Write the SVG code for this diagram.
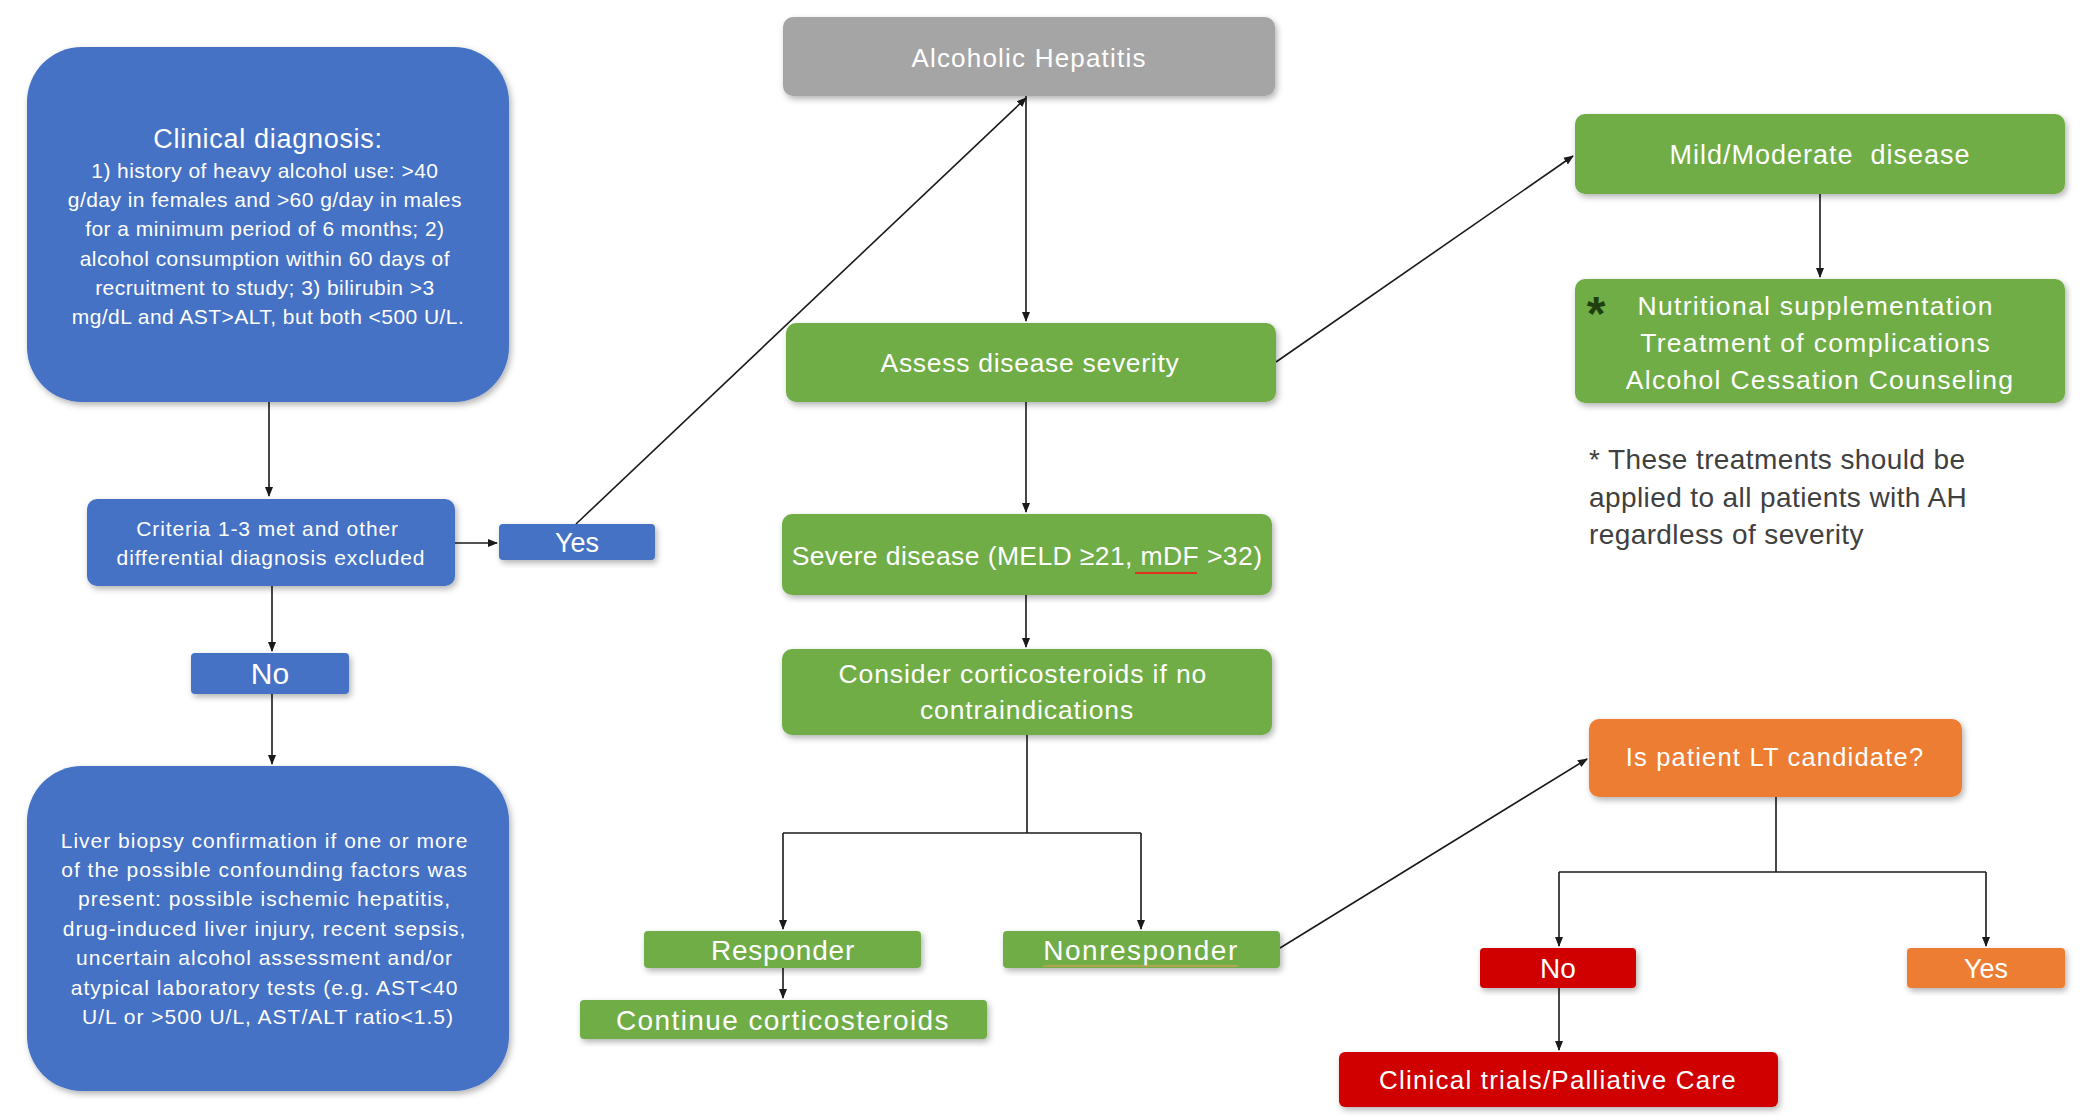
<svg xmlns="http://www.w3.org/2000/svg" width="2100" height="1116" viewBox="0 0 2100 1116">
<defs>
<filter id="sh" x="-10%" y="-10%" width="120%" height="130%">
<feDropShadow dx="2" dy="3" stdDeviation="3" flood-color="#000" flood-opacity="0.3"/>
</filter>
<marker id="ar" markerWidth="10" markerHeight="10" refX="9" refY="5" orient="auto" markerUnits="userSpaceOnUse">
<path d="M0,1 L10,5 L0,9 z" fill="#1a1a1a"/>
</marker>
</defs>
<style>
text{font-family:"Liberation Sans",Arial,sans-serif;fill:#fff;text-anchor:middle}
.blue{fill:#4472C4}
.green{fill:#70AD47}
.gray{fill:#A5A5A5}
.orange{fill:#ED7D31}
.red{fill:#D00000}
.c{stroke:#1a1a1a;stroke-width:1.6;fill:none}
.note{fill:#404040;text-anchor:start;font-size:28px;letter-spacing:0.4px}
</style>
<rect width="2100" height="1116" fill="#fff"/>

<g id="connectors">
<path class="c" d="M269,402 V496" marker-end="url(#ar)"/>
<path class="c" d="M455,543 H497" marker-end="url(#ar)"/>
<path class="c" d="M272,586 V651" marker-end="url(#ar)"/>
<path class="c" d="M272,694 V764" marker-end="url(#ar)"/>
<path class="c" d="M576,524 L1026,98" marker-end="url(#ar)"/>
<path class="c" d="M1026,96 V321" marker-end="url(#ar)"/>
<path class="c" d="M1276,362 L1573,156" marker-end="url(#ar)"/>
<path class="c" d="M1820,194 V277" marker-end="url(#ar)"/>
<path class="c" d="M1026,402 V512" marker-end="url(#ar)"/>
<path class="c" d="M1026,595 V647" marker-end="url(#ar)"/>
<path class="c" d="M1027,735 V833"/>
<path class="c" d="M783,833 H1141"/>
<path class="c" d="M783,833 V929" marker-end="url(#ar)"/>
<path class="c" d="M1141,833 V929" marker-end="url(#ar)"/>
<path class="c" d="M783,968 V998" marker-end="url(#ar)"/>
<path class="c" d="M1280,948 L1587,759" marker-end="url(#ar)"/>
<path class="c" d="M1776,797 V872"/>
<path class="c" d="M1559,872 H1986"/>
<path class="c" d="M1559,872 V946" marker-end="url(#ar)"/>
<path class="c" d="M1986,872 V946" marker-end="url(#ar)"/>
<path class="c" d="M1559,988 V1050" marker-end="url(#ar)"/>
</g>

<g id="clinical-diagnosis">
<rect class="blue" x="27" y="47" width="482" height="355" rx="55" filter="url(#sh)"/>
<text x="268" y="148" font-size="27" letter-spacing="0.7">Clinical diagnosis:</text>
<text font-size="21" letter-spacing="0.45">
<tspan x="268" y="178">1) history of heavy alcohol use: &gt;40</tspan>
<tspan x="268" y="207">g/day in females and &gt;60 g/day in males</tspan>
<tspan x="268" y="236">for a minimum period of 6 months; 2)</tspan>
<tspan x="268" y="266">alcohol consumption within 60 days of</tspan>
<tspan x="268" y="295">recruitment to study; 3) bilirubin &gt;3</tspan>
<tspan x="268" y="324">mg/dL and AST&gt;ALT, but both &lt;500 U/L.</tspan>
</text>
</g>

<g id="criteria">
<rect class="blue" x="87" y="499" width="368" height="87" rx="10" filter="url(#sh)"/>
<text font-size="21" letter-spacing="0.9">
<tspan x="271" y="536">Criteria 1-3 met and other</tspan>
<tspan x="271" y="565">differential diagnosis excluded</tspan>
</text>
</g>

<g id="yes-blue">
<rect class="blue" x="499" y="524" width="156" height="36" rx="4" filter="url(#sh)"/>
<text x="577" y="552" font-size="27">Yes</text>
</g>

<g id="no-blue">
<rect class="blue" x="191" y="653" width="158" height="41" rx="4" filter="url(#sh)"/>
<text x="270" y="684" font-size="30">No</text>
</g>

<g id="liver-biopsy">
<rect class="blue" x="27" y="766" width="482" height="325" rx="55" filter="url(#sh)"/>
<text font-size="21" letter-spacing="1">
<tspan x="268" y="848">Liver biopsy confirmation if one or more</tspan>
<tspan x="268" y="877">of the possible confounding factors was</tspan>
<tspan x="268" y="906">present: possible ischemic hepatitis,</tspan>
<tspan x="268" y="936">drug-induced liver injury, recent sepsis,</tspan>
<tspan x="268" y="965">uncertain alcohol assessment and/or</tspan>
<tspan x="268" y="995">atypical laboratory tests (e.g. AST&lt;40</tspan>
<tspan x="268" y="1024">U/L or &gt;500 U/L, AST/ALT ratio&lt;1.5)</tspan>
</text>
</g>

<g id="alcoholic-hepatitis">
<rect class="gray" x="783" y="17" width="492" height="79" rx="10" filter="url(#sh)"/>
<text x="1029" y="67" font-size="26" letter-spacing="1.2">Alcoholic Hepatitis</text>
</g>

<g id="assess">
<rect class="green" x="786" y="323" width="490" height="79" rx="10" filter="url(#sh)"/>
<text x="1030" y="372" font-size="26.5" letter-spacing="0.7">Assess disease severity</text>
</g>

<g id="severe">
<rect class="green" x="782" y="514" width="490" height="81" rx="10" filter="url(#sh)"/>
<text x="1027" y="565" font-size="26.5" letter-spacing="0.4">Severe disease (MELD ≥21, mDF &gt;32)</text>
<path d="M1135,573 H1197" stroke="#e03020" stroke-width="2"/>
</g>

<g id="consider">
<rect class="green" x="782" y="649" width="490" height="86" rx="10" filter="url(#sh)"/>
<text font-size="26.5" letter-spacing="0.9">
<tspan x="1027" y="683">Consider corticosteroids if no</tspan>
<tspan x="1027" y="719">contraindications</tspan>
</text>
</g>

<g id="responder">
<rect class="green" x="644" y="931" width="277" height="37" rx="4" filter="url(#sh)"/>
<text x="783" y="960" font-size="28" letter-spacing="0.8">Responder</text>
</g>

<g id="continue">
<rect class="green" x="580" y="1000" width="407" height="39" rx="4" filter="url(#sh)"/>
<text x="783" y="1030" font-size="28" letter-spacing="1.4">Continue corticosteroids</text>
</g>

<g id="nonresponder">
<rect class="green" x="1003" y="931" width="277" height="37" rx="4" filter="url(#sh)"/>
<text x="1141" y="960" font-size="28" letter-spacing="1.5">Nonresponder</text>
<path d="M1043,966 H1238" stroke="#c8a050" stroke-width="1.5"/>
</g>

<g id="mild-moderate">
<rect class="green" x="1575" y="114" width="490" height="80" rx="10" filter="url(#sh)"/>
<text x="1820" y="164" font-size="27" letter-spacing="1" xml:space="preserve">Mild/Moderate  disease</text>
</g>

<g id="treatments">
<rect class="green" x="1575" y="279" width="490" height="124" rx="10" filter="url(#sh)"/>
<text x="1596" y="330" font-size="48" style="fill:#1f3f10;font-weight:bold">*</text>
<text font-size="26.5" letter-spacing="1.3">
<tspan x="1820" y="315">Nutritional supplementation</tspan>
<tspan x="1820" y="352">Treatment of complications</tspan>
<tspan x="1820" y="389">Alcohol Cessation Counseling</tspan>
</text>
</g>

<g id="footnote">
<text class="note">
<tspan x="1589" y="469">* These treatments should be</tspan>
<tspan x="1589" y="507">applied to all patients with AH</tspan>
<tspan x="1589" y="544">regardless of severity</tspan>
</text>
</g>

<g id="lt-candidate">
<rect class="orange" x="1589" y="719" width="373" height="78" rx="10" filter="url(#sh)"/>
<text x="1775" y="766" font-size="25.5" letter-spacing="1.2">Is patient LT candidate?</text>
</g>

<g id="no-red">
<rect class="red" x="1480" y="948" width="156" height="40" rx="4" filter="url(#sh)"/>
<text x="1558" y="978" font-size="28">No</text>
</g>

<g id="yes-orange">
<rect class="orange" x="1907" y="948" width="158" height="40" rx="4" filter="url(#sh)"/>
<text x="1986" y="978" font-size="27">Yes</text>
</g>

<g id="clinical-trials">
<rect class="red" x="1339" y="1052" width="439" height="55" rx="6" filter="url(#sh)"/>
<text x="1558" y="1089" font-size="26" letter-spacing="1.2">Clinical trials/Palliative Care</text>
</g>
</svg>
